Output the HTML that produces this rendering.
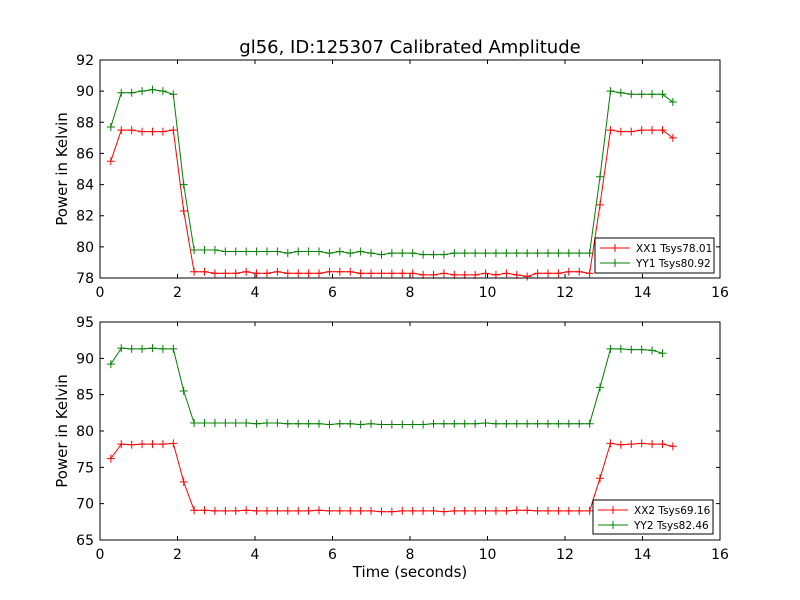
<!DOCTYPE html>
<html><head><meta charset="utf-8"><style>
html,body{margin:0;padding:0;background:#fff;}
svg{display:block;font-family:"DejaVu Sans","Liberation Sans",sans-serif;}
</style></head><body>
<svg id="chart" width="800" height="600"></svg>
<script>
const times = [];
for (let i = 0; i < 55; i++) times.push(+(0.28 + i * 0.2686).toFixed(3));
const xx1 = [85.5,87.5,87.5,87.4,87.4,87.4,87.5,82.3,
78.4,78.4,78.3,78.3,78.3,78.4,78.3,78.3,78.4,78.3,78.3,78.3,78.3,78.4,78.4,78.4,78.3,78.3,78.3,78.3,78.3,78.3,78.2,78.2,78.3,78.2,78.2,78.2,78.3,78.2,78.3,78.2,78.1,78.3,78.3,78.3,78.4,78.4,78.3,
82.7,87.5,87.4,87.4,87.5,87.5,87.5,87.0];
const yy1 = [87.7,89.9,89.9,90.0,90.1,90.0,89.8,84.0,
79.8,79.8,79.8,79.7,79.7,79.7,79.7,79.7,79.7,79.6,79.7,79.7,79.7,79.6,79.7,79.6,79.7,79.6,79.5,79.6,79.6,79.6,79.5,79.5,79.5,79.6,79.6,79.6,79.6,79.6,79.6,79.6,79.6,79.6,79.6,79.6,79.6,79.6,79.6,
84.5,90.0,89.9,89.8,89.8,89.8,89.8,89.3];
const xx2 = [76.2,78.2,78.1,78.2,78.2,78.2,78.3,73.0,
69.1,69.1,69.0,69.0,69.0,69.1,69.0,69.0,69.0,69.0,69.0,69.0,69.1,69.0,69.0,69.0,69.0,69.0,68.9,68.9,69.0,69.0,69.0,69.0,68.9,69.0,69.0,69.0,69.0,69.0,69.0,69.1,69.1,69.0,69.0,69.0,69.0,69.0,69.0,
73.5,78.3,78.1,78.2,78.3,78.2,78.2,77.9];
const yy2 = [89.2,91.4,91.3,91.3,91.4,91.3,91.3,85.5,
81.1,81.1,81.1,81.1,81.1,81.1,81.0,81.1,81.1,81.0,81.0,81.0,81.0,80.9,81.0,81.0,80.9,81.0,80.9,80.9,80.9,80.9,80.9,81.0,81.0,81.0,81.0,81.0,81.1,81.0,81.0,81.0,81.0,81.0,81.0,81.0,81.0,81.0,81.0,
86.0,91.3,91.3,91.2,91.2,91.1,90.7];
const xTicks = [0,2,4,6,8,10,12,14,16];
const yTicks1 = [78,80,82,84,86,88,90,92];
const yTicks2 = [65,70,75,80,85,90,95];
const legend1 = ["XX1 Tsys78.01","YY1 Tsys80.92"];
const legend2 = ["XX2 Tsys69.16","YY2 Tsys82.46"];

const svg = document.getElementById('chart');
const NS = 'http://www.w3.org/2000/svg';
function mk(tag, attrs, parent, text) {
  const e = document.createElementNS(NS, tag);
  for (const k in attrs) e.setAttribute(k, attrs[k]);
  if (text !== undefined) e.textContent = text;
  (parent || svg).appendChild(e);
  return e;
}
const L = 100, R = 720;
function xs(t) { return L + (t - 0) / 16 * (R - L); }

function panel(name, top, bot, ymin, ymax, yTicks, s1, s2, labels, legendBox) {
  const g = mk('g', {});
  
  
  const ys = v => bot - (v - ymin) / (ymax - ymin) * (bot - top);
  [[s1, '#ff0000', labels[0]], [s2, '#008000', labels[1]]].forEach(([arr, col, lab]) => {
    const sg = mk('g', {}, g);
    
    
    const pts = arr.map((v, i) => xs(times[i]).toFixed(1) + ',' + ys(v).toFixed(1)).join(' ');
    mk('polyline', {points: pts, fill: 'none', stroke: col, 'stroke-width': 1}, sg);
    arr.forEach((v, i) => {
      const x = xs(times[i]), y = ys(v);
      const m = mk('path', {d: `M${x-4},${y}H${x+4}M${x},${y-4}V${y+4}`, stroke: col, 'stroke-width': 1}, sg);
      
      
    });
  });
  mk('rect', {x: L, y: top, width: R - L, height: bot - top, fill: 'none', stroke: '#000', 'stroke-width': 1}, g);
  xTicks.forEach(t => {
    const x = xs(t);
    mk('path', {d: `M${x},${bot}v-4M${x},${top}v4`, stroke: '#000'}, g);
    const tl = mk('text', {x: x, y: bot + 19, 'text-anchor': 'middle', 'font-size': 14}, g, t);
    
    
  });
  yTicks.forEach(v => {
    const y = ys(v);
    mk('path', {d: `M${L},${y}h4M${R},${y}h-4`, stroke: '#000'}, g);
    const tl = mk('text', {x: L - 6, y: y + 5, 'text-anchor': 'end', 'font-size': 14}, g, v);
    
    
  });
  const yl = mk('text', {x: 0, y: 0, 'font-size': 15, 'text-anchor': 'middle', transform: `translate(67,${(top+bot)/2}) rotate(-90)`}, g, 'Power in Kelvin');
  
  
  const [lx, ly, lw, lh] = legendBox;
  const lg = mk('g', {}, g);
  
  
  mk('rect', {x: lx, y: ly, width: lw, height: lh, fill: '#fff', stroke: '#000'}, lg);
  [['#ff0000', labels[0]], ['#008000', labels[1]]].forEach(([col, lab], i) => {
    const y = ly + 10 + i * 15;
    mk('path', {d: `M${lx+5},${y}h30M${lx+20},${y-4}v8`, stroke: col}, lg);
    const t = mk('text', {x: lx + 41, y: y + 4, 'font-size': 10.5}, lg, lab);
    
    
  });
}
const title = mk('text', {x: 410, y: 53, 'text-anchor': 'middle', 'font-size': 18}, svg, 'gl56, ID:125307 Calibrated Amplitude');


panel('top-panel', 60, 278, 78, 92, yTicks1, xx1, yy1, legend1, [595, 238, 119, 35]);
panel('bottom-panel', 322, 540, 65, 95, yTicks2, xx2, yy2, legend2, [593, 500, 120, 34]);
const xl = mk('text', {x: 410, y: 577, 'text-anchor': 'middle', 'font-size': 15}, svg, 'Time (seconds)');


</script>
</body></html>
